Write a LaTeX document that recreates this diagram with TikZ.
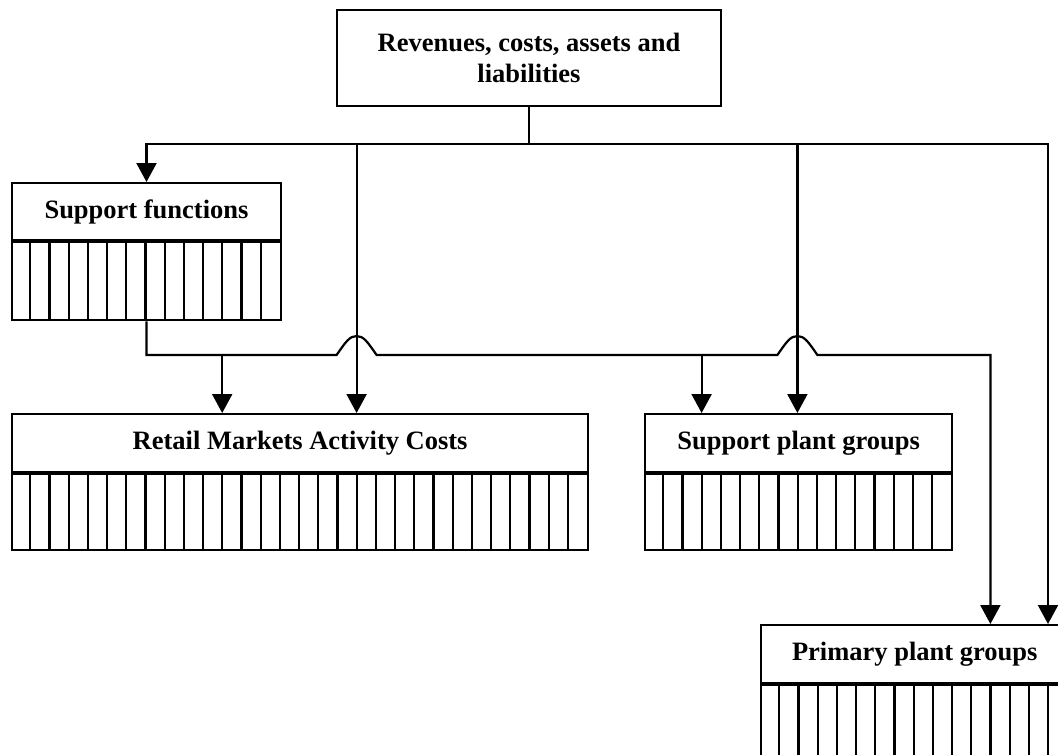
\documentclass[tikz,border=0pt]{standalone}
\usepackage{fontspec}
\setmainfont{Liberation Serif}
\usetikzlibrary{arrows.meta,calc}
\begin{document}
\begin{tikzpicture}[x=1pt,y=-1pt,
  wire/.style={line width=2.2pt},
  arr/.style={wire, -{Triangle[width=20pt,length=19pt]}},
  box/.style={draw, line width=2.2pt, inner sep=0pt, align=center,
    font=\bfseries\fontsize{26.5}{31}\selectfont},
  hdr/.style={box, anchor=north west, minimum height=58pt},
  cellrow/.style={draw, line width=2.2pt, inner sep=0pt, anchor=north west, minimum height=76pt},
]
\useasboundingbox (0,0) rectangle (1058,755);
\clip (0,0) rectangle (1058,755);

% top source box
\node[box, minimum width=384pt, minimum height=96pt] (top) at (529,58)
  {Revenues, costs, assets and\\liabilities};

% headed boxes with a row of cells beneath
\node[hdr, minimum width=268.8pt, minimum height=57pt] (sf) at (11,182) {Support functions};
\node[cellrow, minimum width=268.8pt, minimum height=78pt] (sfg) at (sf.south west) {};
\node[hdr, minimum width=576pt] (rm) at (11,413) {Retail Markets Activity Costs};
\node[cellrow, minimum width=576pt] (rmg) at (rm.south west) {};
\node[hdr, minimum width=307.2pt] (sp) at (644,413) {Support plant groups};
\node[cellrow, minimum width=307.2pt] (spg) at (sp.south west) {};
\node[hdr, minimum width=307.2pt] (pp) at (760,624) {Primary plant groups};
\node[cellrow, minimum width=307.2pt] (ppg) at (pp.south west) {};

% cell dividers
\foreach \g/\n in {sfg/13, rmg/29, spg/15, ppg/15}{
  \foreach \i in {1,...,\n}{
    \draw[wire] ($(\g.north west)+(\i*19.2,0)$) -- ($(\g.south west)+(\i*19.2,0)$);
  }
}

% junction points
\coordinate (bus) at (529,144);
\coordinate (ta) at (356.6,144);
\coordinate (tb) at (797.4,144);
\coordinate (low) at (145.4,355);
\coordinate (ha) at (356.6,355);
\coordinate (hb) at (797.4,355);
\coordinate (tc) at (222.2,355);
\coordinate (td) at (701.6,355);
\coordinate (ppa) at ($(pp.north west)+(230.4,0)$);
\coordinate (ppb) at ($(pp.north west)+(288,0)$);

% upper distribution bus
\draw[wire] (top.south) -- (bus);
\draw[arr] (bus) -| (sf.north);
\draw[arr] (bus) -| (ppb);
\draw[arr] (ta) -- (ta |- rm.north);
\draw[arr] (tb) -- (tb |- sp.north);

% lower bus from support functions, hopping over the upper feeds
\draw[arr] (sfg.south) |- ([xshift=-20pt]ha)
  .. controls ([xshift=-11pt,yshift=13pt]ha) and ([xshift=-7pt,yshift=19pt]ha) .. ([yshift=19pt]ha)
  .. controls ([xshift=7pt,yshift=19pt]ha) and ([xshift=11pt,yshift=13pt]ha) .. ([xshift=20pt]ha)
  -- ([xshift=-20pt]hb)
  .. controls ([xshift=-11pt,yshift=13pt]hb) and ([xshift=-7pt,yshift=19pt]hb) .. ([yshift=19pt]hb)
  .. controls ([xshift=7pt,yshift=19pt]hb) and ([xshift=11pt,yshift=13pt]hb) .. ([xshift=20pt]hb)
  -| (ppa);
\draw[arr] (tc) -- (tc |- rm.north);
\draw[arr] (td) -- (td |- sp.north);
\end{tikzpicture}
\end{document}
